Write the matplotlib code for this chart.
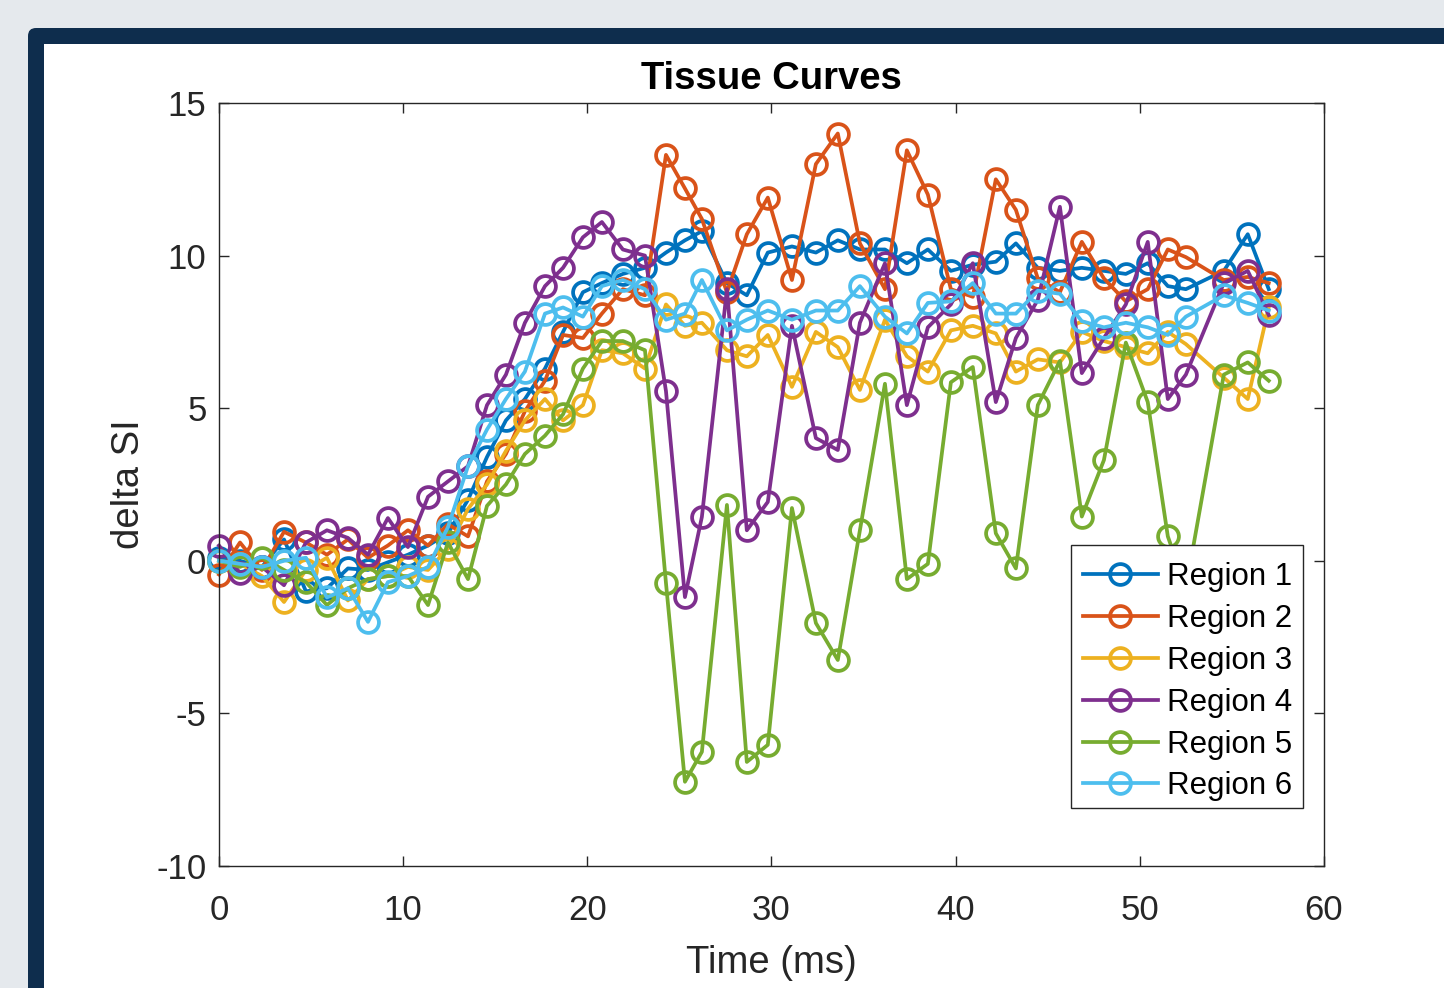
import matplotlib
matplotlib.use("Agg")
import matplotlib.pyplot as plt
from matplotlib.patches import FancyBboxPatch, Rectangle

# ---------------- data ----------------
time = [0.00, 1.14, 2.33, 3.53, 4.72, 5.86, 7.00, 8.09, 9.17, 10.26,
        11.35, 12.43, 13.52, 14.55, 15.58, 16.61, 17.70, 18.68, 19.76, 20.79,
        21.93, 23.13, 24.27, 25.30, 26.22, 27.58, 28.66, 29.80, 31.11, 32.41,
        33.60, 34.80, 36.16, 37.35, 38.49, 39.74, 40.93, 42.18, 43.27, 44.46,
        45.66, 46.85, 48.05, 49.24, 50.43, 51.52, 52.50, 54.56, 55.86, 57.00]

region1 = [0.1, 0.0, -0.2, 0.7, -1.0, -0.9, -0.25, -0.3, -0.05, 0.2,
           0.5, 0.9, 2.0, 3.4, 4.6, 5.3, 6.3, 7.5, 8.8, 9.1,
           9.4, 9.6, 10.1, 10.5, 10.8, 9.1, 8.7, 10.1, 10.3, 10.1,
           10.5, 10.2, 10.2, 9.75, 10.2, 9.5, 9.7, 9.8, 10.4, 9.6,
           9.5, 9.6, 9.5, 9.4, 9.75, 9.0, 8.9, 9.5, 10.7, 8.9]
region2 = [-0.45, 0.6, -0.3, 0.95, 0.6, 0.2, 0.7, 0.1, 0.5, 1.0,
           0.5, 1.2, 0.8, 2.6, 3.5, 4.9, 5.9, 7.4, 7.3, 8.1,
           8.9, 8.7, 13.3, 12.2, 11.2, 8.8, 10.7, 11.9, 9.2, 13.0,
           14.0, 10.4, 8.9, 13.45, 12.0, 8.9, 8.65, 12.5, 11.5, 9.25,
           8.8, 10.45, 9.25, 8.5, 8.9, 10.2, 9.95, 9.2, 9.3, 9.1]
region3 = [0.0, -0.1, -0.5, -1.35, -0.3, 0.1, -1.3, -0.6, -0.5, -0.2,
           -0.3, 0.4, 1.7, 2.5, 3.6, 4.6, 5.3, 4.6, 5.1, 6.9,
           6.8, 6.3, 8.4, 7.7, 7.8, 6.9, 6.7, 7.4, 5.7, 7.5,
           7.0, 5.6, 7.9, 6.7, 6.2, 7.55, 7.7, 7.45, 6.2, 6.6,
           6.5, 7.5, 7.2, 7.0, 6.8, 7.5, 7.1, 6.0, 5.3, 8.3]
region4 = [0.5, -0.4, -0.2, -0.8, 0.6, 1.0, 0.75, 0.2, 1.4, 0.45,
           2.1, 2.6, 3.1, 5.1, 6.1, 7.8, 9.0, 9.6, 10.6, 11.1,
           10.2, 10.0, 5.56, -1.19, 1.44, 8.9, 1.0, 1.93, 7.7, 4.02,
           3.63, 7.8, 9.75, 5.1, 7.65, 8.4, 9.75, 5.2, 7.3, 8.55,
           11.6, 6.15, 7.3, 8.4, 10.45, 5.3, 6.1, 9.1, 9.5, 8.05]
region5 = [0.0, -0.2, 0.1, -0.3, -0.7, -1.45, -0.9, -0.6, -0.5, -0.5,
           -1.45, 0.6, -0.6, 1.8, 2.5, 3.5, 4.1, 4.8, 6.3, 7.2,
           7.2, 6.9, -0.73, -7.24, -6.26, 1.83, -6.59, -6.03, 1.73, -2.04,
           -3.25, 1.0, 5.8, -0.6, -0.1, 5.85, 6.35, 0.9, -0.25, 5.1,
           6.55, 1.45, 3.3, 7.15, 5.2, 0.8, -0.9, 6.1, 6.5, 5.9]
region6 = [0.0, -0.1, -0.2, 0.0, 0.1, -1.2, -0.9, -2.0, -0.7, -0.5,
           -0.2, 1.1, 3.1, 4.3, 5.3, 6.2, 8.1, 8.3, 8.0, 9.0,
           9.2, 8.9, 7.9, 8.1, 9.2, 7.55, 7.9, 8.2, 7.9, 8.2,
           8.2, 9.0, 8.0, 7.45, 8.45, 8.5, 9.1, 8.1, 8.1, 8.85,
           8.75, 7.85, 7.65, 7.8, 7.65, 7.4, 8.0, 8.7, 8.45, 8.2]

labels = ["Region 1", "Region 2", "Region 3", "Region 4", "Region 5", "Region 6"]
series = [region1, region2, region3, region4, region5, region6]
colors = ["#0072BD", "#D95319", "#EDB120", "#7E2F8E", "#77AC30", "#4DBEEE"]

xticks = [0, 10, 20, 30, 40, 50, 60]
yticks = [-10, -5, 0, 5, 10, 15]

# ---------------- figure ----------------
plt.rcParams['font.family'] = ['Liberation Sans', 'DejaVu Sans']
W, H = 1444, 988
fig = plt.figure(figsize=(W / 100, H / 100), dpi=100, facecolor="#e5e9ed")

# window frame (pixel coordinates, origin bottom-left)
frame = FancyBboxPatch((28, -40), W, H - 28 + 40, boxstyle="round,pad=0,rounding_size=8",
                       transform=None, facecolor="#0e2d4d", edgecolor="none", zorder=-10)
fig.patches.append(frame)
inner = Rectangle((44, -40), W, H - 44 + 40, transform=None,
                  facecolor="white", edgecolor="none", zorder=-9)
fig.patches.append(inner)

L, R, T, B = 219, 1324, 103, 866
ax = fig.add_axes([L / W, 1 - B / H, (R - L) / W, (B - T) / H])
ax.set_facecolor("white")
ax.set_zorder(5)

for y, lab, c in zip(series, labels, colors):
    ax.plot(time, y, color=c, lw=2.7, marker="o", ms=15, mfc="none", mew=2.7,
            label=lab, clip_on=False, zorder=2)

ax.set_xlim(0, 60)
ax.set_ylim(-10, 15)
ax.set_xticks(xticks)
ax.set_yticks(yticks)
ax.set_xticklabels([str(v) for v in xticks])
ax.set_yticklabels([str(v) for v in yticks])

dark = "#262626"
for s in ax.spines.values():
    s.set_color(dark)
    s.set_linewidth(1.0)
    s.set_zorder(3)
ax.tick_params(axis="both", direction="in", length=7, width=1.0, color=dark,
               labelcolor=dark, labelsize=25, top=True, right=True)
ax.tick_params(axis="x", pad=20)
ax.tick_params(axis="y", pad=9)

ax.set_title("Tissue Curves", fontsize=27.5, fontweight="bold", color="black", pad=10)
ax.set_xlabel("Time (ms)", fontsize=27.5, color=dark, labelpad=13)
ax.set_ylabel("delta SI", fontsize=27.5, color=dark, labelpad=7)

# legend box (opaque) drawn separately so that the entries sit as in the reference
box = Rectangle(((1071 - L) / (R - L), (B - 808) / (B - T)), (1303 - 1071) / (R - L),
                (808 - 545) / (B - T), transform=ax.transAxes, facecolor="white",
                edgecolor=dark, linewidth=1.0, zorder=6, clip_on=False)
ax.add_patch(box)
leg = ax.legend(loc="upper left", bbox_to_anchor=((1083 - L) / (R - L), (B - 562) / (B - T)),
                borderaxespad=0, borderpad=0, fontsize=22.5, frameon=False,
                handlelength=2.4, handletextpad=0.3, labelspacing=0.38)
leg.set_zorder(7)

fig.savefig("out.png", dpi=100, facecolor=fig.get_facecolor())
